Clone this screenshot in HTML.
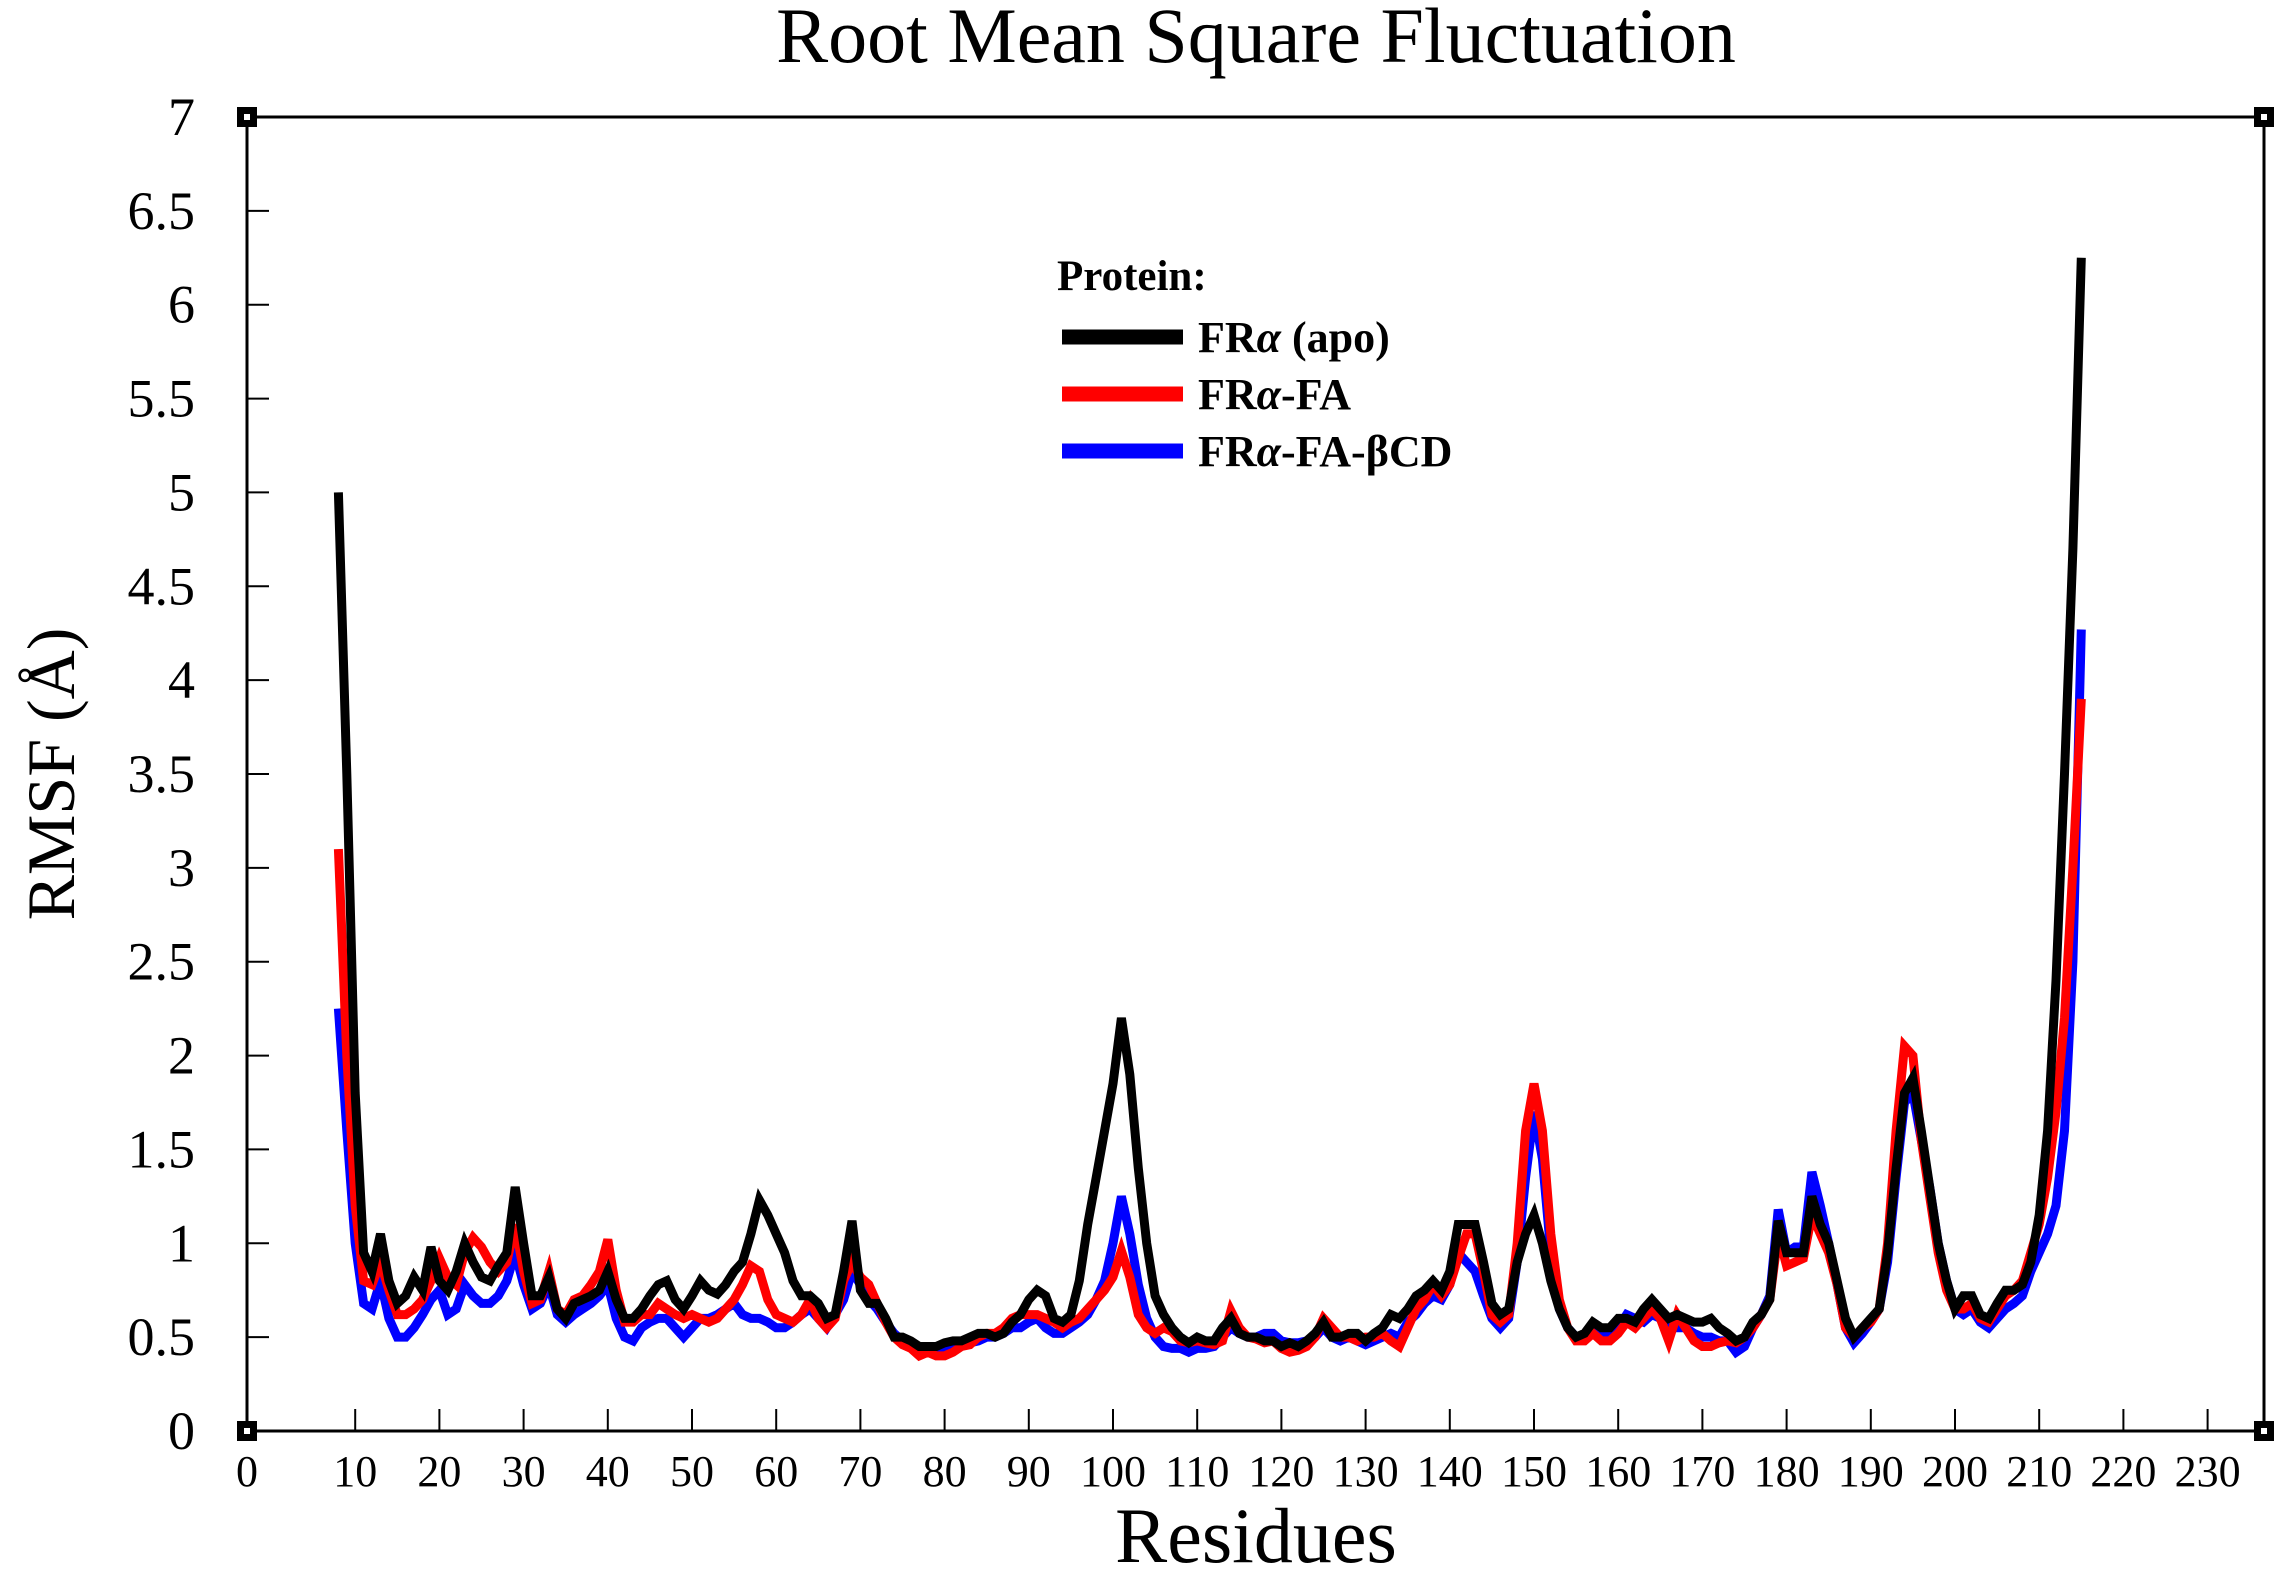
<!DOCTYPE html>
<html><head><meta charset="utf-8"><style>
html,body{margin:0;padding:0;background:#fff}
svg{display:block}
text{font-family:"Liberation Serif",serif;fill:#000}
</style></head><body>
<svg id="chart" width="2290" height="1576" viewBox="0 0 2290 1576">
<text x="1256" y="62" font-size="78" text-anchor="middle">Root Mean Square Fluctuation</text>
<text x="1256" y="1562" font-size="78" text-anchor="middle">Residues</text>
<text transform="translate(74,774) rotate(-90)" font-size="68" text-anchor="middle">RMSF (Å)</text>
<g id="plot"></g>
<g>
<text x="1057" y="290" font-size="43" font-weight="bold">Protein:</text>
<line x1="1062" y1="337" x2="1183" y2="337" stroke="#000" stroke-width="15"/>
<text x="1198" y="352" font-size="44" font-weight="bold">FR<tspan font-style="italic">α</tspan> (apo)</text>
<line x1="1062" y1="394" x2="1183" y2="394" stroke="#ff0000" stroke-width="15"/>
<text x="1198" y="409" font-size="44" font-weight="bold">FR<tspan font-style="italic">α</tspan>-FA</text>
<line x1="1062" y1="451" x2="1183" y2="451" stroke="#0000ff" stroke-width="15"/>
<text x="1198" y="466" font-size="44" font-weight="bold">FR<tspan font-style="italic">α</tspan>-FA-βCD</text>
</g>
</svg>
<script>
const firstResidue = 8;
const lastResidue = 215;
const xTicks = [10,20,30,40,50,60,70,80,90,100,110,120,130,140,150,160,170,180,190,200,210,220,230];
const yTicks = [0,0.5,1,1.5,2,2.5,3,3.5,4,4.5,5,5.5,6,6.5,7];
const yTickLabels = ["0","0.5","1","1.5","2","2.5","3","3.5","4","4.5","5","5.5","6","6.5","7"];
const apoValues = [5.0,3.5,1.8,0.95,0.85,1.05,0.8,0.68,0.72,0.82,0.75,0.98,0.8,0.75,0.85,1.0,0.9,0.82,0.8,0.88,0.95,1.3,1.0,0.72,0.72,0.82,0.65,0.6,0.68,0.7,0.72,0.75,0.85,0.7,0.6,0.6,0.65,0.72,0.78,0.8,0.7,0.65,0.72,0.8,0.75,0.73,0.78,0.85,0.9,1.05,1.23,1.15,1.05,0.95,0.8,0.72,0.72,0.68,0.6,0.62,0.85,1.12,0.75,0.68,0.68,0.6,0.5,0.5,0.48,0.45,0.45,0.45,0.47,0.48,0.48,0.5,0.52,0.52,0.5,0.52,0.58,0.62,0.7,0.75,0.72,0.6,0.58,0.62,0.8,1.1,1.35,1.6,1.85,2.2,1.9,1.4,1.0,0.72,0.62,0.55,0.5,0.47,0.5,0.48,0.48,0.55,0.6,0.52,0.5,0.5,0.48,0.48,0.45,0.47,0.45,0.48,0.52,0.58,0.5,0.5,0.52,0.52,0.48,0.52,0.55,0.62,0.6,0.65,0.72,0.75,0.8,0.75,0.85,1.1,1.1,1.1,0.9,0.68,0.62,0.65,0.9,1.05,1.15,1.0,0.8,0.65,0.55,0.5,0.52,0.58,0.55,0.55,0.6,0.6,0.58,0.65,0.7,0.65,0.6,0.62,0.6,0.58,0.58,0.6,0.55,0.52,0.48,0.5,0.58,0.62,0.7,1.12,0.95,0.95,0.95,1.25,1.1,1.0,0.8,0.6,0.5,0.55,0.6,0.65,0.95,1.4,1.8,1.88,1.6,1.3,1.0,0.8,0.65,0.72,0.72,0.62,0.6,0.68,0.75,0.75,0.78,0.9,1.15,1.6,2.4,3.5,4.7,6.25];
const faValues = [3.1,2.0,1.2,0.8,0.78,0.9,0.75,0.62,0.62,0.65,0.7,0.8,0.92,0.82,0.78,0.95,1.03,0.98,0.9,0.85,0.9,1.1,0.85,0.68,0.7,0.85,0.65,0.62,0.7,0.72,0.78,0.85,1.02,0.75,0.58,0.58,0.62,0.62,0.68,0.65,0.62,0.6,0.62,0.6,0.58,0.6,0.65,0.7,0.78,0.88,0.85,0.7,0.62,0.6,0.58,0.62,0.7,0.6,0.55,0.6,0.8,0.9,0.82,0.78,0.68,0.58,0.5,0.46,0.44,0.4,0.42,0.4,0.4,0.42,0.45,0.46,0.5,0.52,0.52,0.55,0.6,0.62,0.62,0.62,0.6,0.58,0.55,0.58,0.6,0.65,0.7,0.75,0.82,0.96,0.82,0.62,0.55,0.52,0.55,0.53,0.48,0.47,0.48,0.47,0.46,0.48,0.64,0.55,0.5,0.49,0.47,0.48,0.44,0.42,0.43,0.45,0.5,0.6,0.55,0.5,0.5,0.48,0.5,0.5,0.52,0.48,0.45,0.55,0.65,0.7,0.78,0.72,0.78,0.92,1.05,1.05,0.85,0.62,0.58,0.62,1.0,1.6,1.85,1.6,1.05,0.7,0.55,0.48,0.48,0.52,0.48,0.48,0.52,0.58,0.55,0.6,0.65,0.6,0.48,0.62,0.55,0.48,0.45,0.45,0.47,0.48,0.47,0.5,0.55,0.62,0.7,1.05,0.88,0.9,0.92,1.15,1.05,0.95,0.78,0.55,0.5,0.55,0.58,0.65,1.0,1.6,2.05,2.0,1.55,1.25,0.95,0.75,0.65,0.65,0.68,0.6,0.58,0.65,0.72,0.75,0.8,0.95,1.1,1.35,1.7,2.2,3.0,3.9];
const faBcdValues = [2.25,1.6,1.0,0.68,0.65,0.8,0.6,0.5,0.5,0.55,0.62,0.7,0.75,0.62,0.65,0.78,0.72,0.68,0.68,0.72,0.8,0.95,0.78,0.65,0.68,0.78,0.62,0.58,0.62,0.65,0.68,0.72,0.78,0.6,0.5,0.48,0.55,0.58,0.6,0.6,0.55,0.5,0.55,0.6,0.6,0.62,0.65,0.68,0.62,0.6,0.6,0.58,0.55,0.55,0.58,0.62,0.65,0.6,0.55,0.62,0.7,0.85,0.78,0.7,0.65,0.58,0.52,0.48,0.45,0.42,0.42,0.43,0.43,0.44,0.45,0.47,0.48,0.5,0.5,0.52,0.55,0.55,0.58,0.6,0.55,0.52,0.52,0.55,0.58,0.62,0.7,0.8,1.0,1.25,1.05,0.78,0.6,0.5,0.45,0.44,0.44,0.42,0.44,0.44,0.45,0.5,0.55,0.52,0.5,0.5,0.52,0.52,0.48,0.47,0.47,0.48,0.5,0.55,0.5,0.48,0.5,0.48,0.46,0.48,0.5,0.52,0.5,0.58,0.62,0.68,0.72,0.7,0.78,0.95,0.9,0.85,0.72,0.6,0.55,0.6,0.9,1.35,1.7,1.45,0.95,0.65,0.55,0.5,0.5,0.55,0.52,0.5,0.55,0.62,0.6,0.58,0.62,0.6,0.55,0.55,0.55,0.52,0.5,0.5,0.48,0.48,0.42,0.45,0.55,0.62,0.72,1.18,0.95,0.98,0.98,1.38,1.2,1.0,0.78,0.55,0.47,0.52,0.58,0.65,0.9,1.35,1.75,1.8,1.55,1.3,1.0,0.8,0.65,0.62,0.65,0.58,0.55,0.6,0.65,0.68,0.72,0.85,0.95,1.05,1.2,1.6,2.5,4.27];

const residues = [];
for (let r = firstResidue; r <= lastResidue; r++) residues.push(r);

const NS = "http://www.w3.org/2000/svg";
const L = 247, R = 2264, T = 117, B = 1431;
function xScale(v){ return 271 + 8.42 * v; }
function yScale(v){ return B - (B - T) * v / 7; }
const plot = document.getElementById('plot');
function mk(tag, attrs){ const e = document.createElementNS(NS, tag); for (const k in attrs) e.setAttribute(k, attrs[k]); plot.appendChild(e); return e; }

function drawSeries(vals, color, name){
  let d = '';
  vals.forEach((v,i)=>{ d += (i ? 'L' : 'M') + xScale(residues[i]).toFixed(1) + ' ' + yScale(v).toFixed(1); });
  const p = mk('path', {d: d, fill: 'none', stroke: color, 'stroke-width': 9, 'stroke-linejoin': 'miter'});
  
  
}
drawSeries(faBcdValues, '#0000ff', 'series-fa-bcd');
drawSeries(faValues, '#ff0000', 'series-fa');
drawSeries(apoValues, '#000000', 'series-apo');

const frame = mk('rect', {x: L, y: T, width: R - L, height: B - T, fill: 'none', stroke: '#000', 'stroke-width': 3});



xTicks.forEach(t=>{
  const x = xScale(t);
  const ln = mk('line', {x1: x, y1: B, x2: x, y2: B - 22, stroke: '#000', 'stroke-width': 2});
  
  
  const tx = mk('text', {x: x, y: B + 55, 'font-size': 44, 'text-anchor': 'middle'});
  tx.textContent = String(t);
  
  
});
const zeroLabel = mk('text', {x: L, y: B + 55, 'font-size': 44, 'text-anchor': 'middle'});
zeroLabel.textContent = '0';



yTicks.forEach((t,i)=>{
  const y = yScale(t);
  const ln = mk('line', {x1: L, y1: y, x2: L + 22, y2: y, stroke: '#000', 'stroke-width': 2});
  
  
  const tx = mk('text', {x: 195, y: y + 18, 'font-size': 54, 'text-anchor': 'end'});
  tx.textContent = yTickLabels[i];
  
  
});

[[L,T],[R,T],[L,B],[R,B]].forEach(c=>{
  const sq = mk('rect', {x: c[0] - 10, y: c[1] - 10, width: 20, height: 20, fill: '#000'});
  
  
  const inner = mk('rect', {x: c[0] - 3, y: c[1] - 3, width: 6, height: 6, fill: '#fff'});
  
  
});
</script>
</body></html>
